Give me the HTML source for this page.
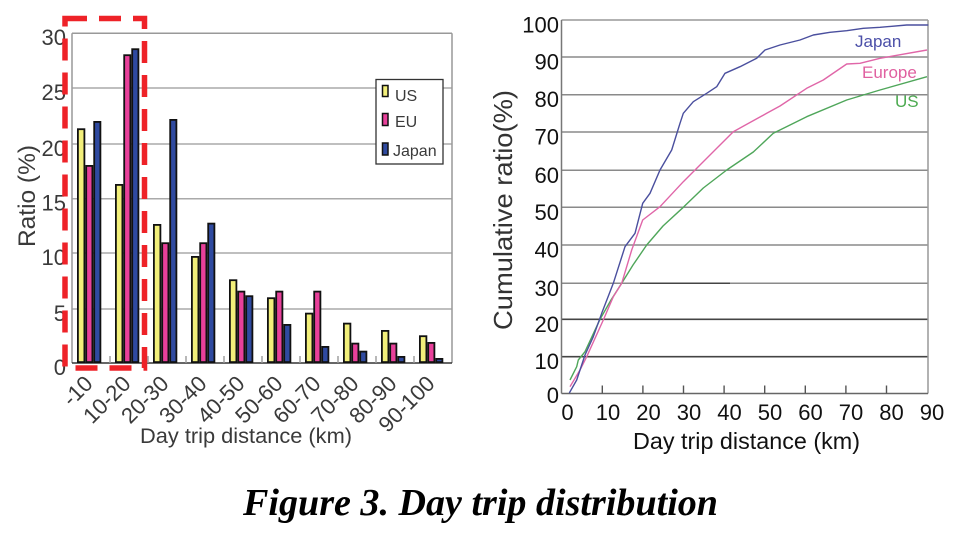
<!DOCTYPE html>
<html>
<head>
<meta charset="utf-8">
<style>
  html,body{margin:0;padding:0;background:#fff;}
  svg{display:block;}
  .sans{font-family:"Liberation Sans", Arial, sans-serif;}
</style>
</head>
<body>
<svg width="960" height="537" viewBox="0 0 960 537" xmlns="http://www.w3.org/2000/svg">
  <rect x="0" y="0" width="960" height="537" fill="#fff"/>

  <!-- ============ LEFT CHART ============ -->
  <g stroke="#aaa" stroke-width="1.5">
    <line x1="72" y1="88" x2="452" y2="88"/>
    <line x1="72" y1="144" x2="452" y2="144"/>
    <line x1="72" y1="198.7" x2="452" y2="198.7"/>
    <line x1="72" y1="253" x2="452" y2="253"/>
    <line x1="72" y1="309" x2="452" y2="309"/>
  </g>
  <g stroke="#999" stroke-width="1.5" fill="none">
    <line x1="72" y1="33.3" x2="452" y2="33.3"/>
    <line x1="452" y1="33.3" x2="452" y2="363"/>
    <line x1="72" y1="33.3" x2="72" y2="363"/>
  </g>
  <line x1="72" y1="363" x2="452" y2="363" stroke="#333" stroke-width="1.6"/>
  <g stroke="#999" stroke-width="1.4">
    <line x1="110" y1="356" x2="110" y2="363"/>
    <line x1="148" y1="356" x2="148" y2="363"/>
    <line x1="186" y1="356" x2="186" y2="363"/>
    <line x1="224" y1="356" x2="224" y2="363"/>
    <line x1="262" y1="356" x2="262" y2="363"/>
    <line x1="300" y1="356" x2="300" y2="363"/>
    <line x1="338" y1="356" x2="338" y2="363"/>
    <line x1="376" y1="356" x2="376" y2="363"/>
    <line x1="414" y1="356" x2="414" y2="363"/>
  </g>

  <g stroke="#111" stroke-width="1.8">
    <rect x="77.9" y="129.2" width="6.5" height="232.9" fill="#f2ef7a"/>
    <rect x="86.2" y="165.9" width="6.2" height="196.2" fill="#e8409a"/>
    <rect x="94.2" y="121.9" width="6.2" height="240.2" fill="#2f4aa0"/>
    <rect x="115.9" y="184.9" width="6.5" height="177.2" fill="#f2ef7a"/>
    <rect x="124.2" y="55.2" width="6.2" height="306.9" fill="#e8409a"/>
    <rect x="132.2" y="49.2" width="6.2" height="312.9" fill="#2f4aa0"/>
    <rect x="153.9" y="224.9" width="6.5" height="137.2" fill="#f2ef7a"/>
    <rect x="162.2" y="243.2" width="6.2" height="118.9" fill="#e8409a"/>
    <rect x="170.2" y="119.9" width="6.2" height="242.2" fill="#2f4aa0"/>
    <rect x="191.9" y="256.9" width="6.5" height="105.2" fill="#f2ef7a"/>
    <rect x="200.2" y="243.2" width="6.2" height="118.9" fill="#e8409a"/>
    <rect x="208.2" y="223.6" width="6.2" height="138.5" fill="#2f4aa0"/>
    <rect x="229.9" y="280.2" width="6.5" height="81.9" fill="#f2ef7a"/>
    <rect x="238.2" y="291.6" width="6.2" height="70.5" fill="#e8409a"/>
    <rect x="246.2" y="296.2" width="6.2" height="65.9" fill="#2f4aa0"/>
    <rect x="267.9" y="298.2" width="6.5" height="63.9" fill="#f2ef7a"/>
    <rect x="276.2" y="291.6" width="6.2" height="70.5" fill="#e8409a"/>
    <rect x="284.2" y="324.9" width="6.2" height="37.2" fill="#2f4aa0"/>
    <rect x="305.9" y="313.6" width="6.5" height="48.5" fill="#f2ef7a"/>
    <rect x="314.2" y="291.6" width="6.2" height="70.5" fill="#e8409a"/>
    <rect x="322.2" y="346.9" width="6.2" height="15.2" fill="#2f4aa0"/>
    <rect x="343.9" y="323.6" width="6.5" height="38.5" fill="#f2ef7a"/>
    <rect x="352.2" y="343.6" width="6.2" height="18.5" fill="#e8409a"/>
    <rect x="360.2" y="351.6" width="6.2" height="10.5" fill="#2f4aa0"/>
    <rect x="381.9" y="330.9" width="6.5" height="31.2" fill="#f2ef7a"/>
    <rect x="390.2" y="343.6" width="6.2" height="18.5" fill="#e8409a"/>
    <rect x="398.2" y="356.9" width="6.2" height="5.2" fill="#2f4aa0"/>
    <rect x="419.9" y="336.2" width="6.5" height="25.9" fill="#f2ef7a"/>
    <rect x="428.2" y="342.9" width="6.2" height="19.2" fill="#e8409a"/>
    <rect x="436.2" y="358.9" width="6.2" height="3.2" fill="#2f4aa0"/>
  </g>

  <g class="sans" font-size="22" fill="#3a3a3a" text-anchor="end">
    <text x="66" y="45">30</text>
    <text x="66" y="100">25</text>
    <text x="66" y="156">20</text>
    <text x="66" y="210.7">15</text>
    <text x="66" y="265">10</text>
    <text x="66" y="321">5</text>
    <text x="66" y="375">0</text>
  </g>
  <text class="sans" transform="translate(35,196) rotate(-90)" font-size="24" fill="#3a3a3a" text-anchor="middle" textLength="102" lengthAdjust="spacingAndGlyphs">Ratio (%)</text>

  <g class="sans" font-size="22" fill="#3a3a3a" text-anchor="end">
    <text transform="translate(94,385) rotate(-45)">-10</text>
    <text transform="translate(132,385) rotate(-45)">10-20</text>
    <text transform="translate(170,385) rotate(-45)">20-30</text>
    <text transform="translate(208,385) rotate(-45)">30-40</text>
    <text transform="translate(246,385) rotate(-45)">40-50</text>
    <text transform="translate(284,385) rotate(-45)">50-60</text>
    <text transform="translate(322,385) rotate(-45)">60-70</text>
    <text transform="translate(360,385) rotate(-45)">70-80</text>
    <text transform="translate(398,385) rotate(-45)">80-90</text>
    <text transform="translate(436,385) rotate(-45)">90-100</text>
  </g>
  <text class="sans" x="246" y="443" font-size="21.5" fill="#3a3a3a" text-anchor="middle" textLength="212" lengthAdjust="spacingAndGlyphs">Day trip distance (km)</text>

  <rect x="376" y="79.5" width="67" height="84.5" fill="#fff" stroke="#333" stroke-width="1.3"/>
  <g stroke="#111" stroke-width="1.5">
    <rect x="382.5" y="85.5" width="5.5" height="11" fill="#f2ef7a"/>
    <rect x="382.5" y="113.5" width="5.5" height="12" fill="#e8409a"/>
    <rect x="382.5" y="143" width="5.5" height="12" fill="#2f4aa0"/>
  </g>
  <g class="sans" font-size="16" fill="#3a3a3a">
    <text x="395" y="101">US</text>
    <text x="395" y="127">EU</text>
    <text x="393" y="156">Japan</text>
  </g>

  <rect x="65" y="18.5" width="79.5" height="349.5" fill="none" stroke="#ee2228" stroke-width="5.5" stroke-dasharray="22 12"/>

  <!-- ============ RIGHT CHART ============ -->
  <g stroke="#8a8a8a" stroke-width="1.5">
    <line x1="561.5" y1="57" x2="928" y2="57"/>
    <line x1="561.5" y1="94.7" x2="928" y2="94.7"/>
    <line x1="561.5" y1="132" x2="928" y2="132"/>
    <line x1="561.5" y1="170.3" x2="928" y2="170.3"/>
    <line x1="561.5" y1="207.3" x2="928" y2="207.3"/>
    <line x1="561.5" y1="245" x2="928" y2="245"/>
    <line x1="561.5" y1="283.3" x2="928" y2="283.3"/>
  </g>
  <line x1="640" y1="283.3" x2="730" y2="283.3" stroke="#444" stroke-width="1.5"/>
  <g stroke="#444" stroke-width="1.6">
    <line x1="561.5" y1="319.3" x2="928" y2="319.3"/>
    <line x1="561.5" y1="356.7" x2="928" y2="356.7"/>
  </g>
  <g fill="none" stroke-width="1.5">
    <line x1="561.5" y1="20" x2="928" y2="20" stroke="#999"/>
    <line x1="928" y1="20" x2="928" y2="393.5" stroke="#999"/>
    <line x1="561.5" y1="20" x2="561.5" y2="393.5" stroke="#777"/>
    <line x1="561.5" y1="393.5" x2="928" y2="393.5" stroke="#666"/>
  </g>
  <g stroke="#555" stroke-width="1.4">
    <line x1="602.3" y1="385.5" x2="602.3" y2="393.5"/>
    <line x1="642.9" y1="385.5" x2="642.9" y2="393.5"/>
    <line x1="683.5" y1="385.5" x2="683.5" y2="393.5"/>
    <line x1="724.1" y1="385.5" x2="724.1" y2="393.5"/>
    <line x1="764.7" y1="385.5" x2="764.7" y2="393.5"/>
    <line x1="805.3" y1="385.5" x2="805.3" y2="393.5"/>
    <line x1="845.9" y1="385.5" x2="845.9" y2="393.5"/>
    <line x1="886.5" y1="385.5" x2="886.5" y2="393.5"/>
  </g>

  <g fill="none" stroke-width="1.4" stroke-linejoin="round">
    <path stroke="#4fa65a" d="M570,380 L576.7,366.7 L578.3,360 L585,351.7 L600,319.3 L611,300 L621.7,283.3 L633,265 L646.7,245 L663,226 L683.3,207.3 L703.3,188 L726.7,170 L753.3,152 L773.3,133.3 L806.7,116.7 L846.7,100 L880,90 L927,76.7"/>
    <path stroke="#e066a8" d="M570,386.7 L580,370 L586.7,356.7 L603.3,320 L613.3,296.7 L621.7,283.3 L631.7,250 L642.7,220 L660,206.7 L683.3,181.7 L700,165 L715,150 L733.3,131.7 L766.7,113.3 L780,106 L806.7,88.3 L823.3,80 L846.7,64 L860,63.3 L880,58.3 L927,50"/>
    <path stroke="#4a4f9e" d="M569.3,393 L576.7,380 L585,355 L593.3,336.7 L601.7,313.3 L613.3,283.3 L625,246.7 L635,233.3 L642.7,203.3 L650,193.3 L660,170 L671.7,150 L680,123.3 L683.3,113.3 L693.3,101.7 L706.7,93.3 L716.7,86.7 L725,73.3 L740,66.7 L756.7,58.3 L765,50 L780,45 L800,40 L813.3,35 L830,32.3 L846.7,30.7 L863.3,28.3 L880,27.3 L906.7,25 L928.3,25"/>
  </g>
  <g class="sans" font-size="17">
    <text x="855" y="47" fill="#4b4fa8">Japan</text>
    <text x="862" y="78" fill="#e060a0">Europe</text>
    <text x="895" y="107" fill="#4caa50">US</text>
  </g>

  <g class="sans" font-size="22" fill="#111" text-anchor="end">
    <text x="559" y="32.5">100</text>
    <text x="559" y="69.5">90</text>
    <text x="559" y="107.2">80</text>
    <text x="559" y="144.5">70</text>
    <text x="559" y="182.8">60</text>
    <text x="559" y="219.8">50</text>
    <text x="559" y="257.5">40</text>
    <text x="559" y="295.8">30</text>
    <text x="559" y="331.8">20</text>
    <text x="559" y="369.2">10</text>
    <text x="559" y="403">0</text>
  </g>
  <g class="sans" font-size="22" fill="#111" text-anchor="middle">
    <text x="567.5" y="420">0</text>
    <text x="608" y="420">10</text>
    <text x="648.5" y="420">20</text>
    <text x="689" y="420">30</text>
    <text x="729.5" y="420">40</text>
    <text x="770" y="420">50</text>
    <text x="810.5" y="420">60</text>
    <text x="851" y="420">70</text>
    <text x="891.5" y="420">80</text>
    <text x="932" y="420">90</text>
  </g>
  <text class="sans" x="746.5" y="449" font-size="23" fill="#111" text-anchor="middle" textLength="227" lengthAdjust="spacingAndGlyphs">Day trip distance (km)</text>
  <text class="sans" transform="translate(512,210) rotate(-90)" font-size="26" fill="#333" text-anchor="middle" textLength="240" lengthAdjust="spacingAndGlyphs">Cumulative ratio(%)</text>

  <text x="243" y="515" style="font-family:'Liberation Serif','Times New Roman',serif;font-size:38px;font-weight:bold;font-style:italic;" fill="#000" textLength="475" lengthAdjust="spacingAndGlyphs">Figure 3. Day trip distribution</text>
</svg>
</body>
</html>
